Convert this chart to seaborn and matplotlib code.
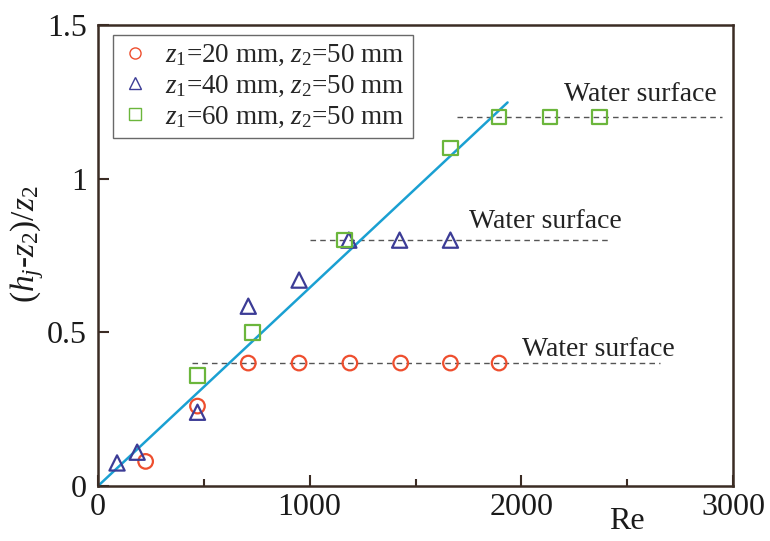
import numpy as np
import pandas as pd
import matplotlib
matplotlib.use("Agg")
import matplotlib.pyplot as plt
from matplotlib.lines import Line2D
import seaborn as sns

# ---- data ----
re_c = [225, 470, 710, 950, 1190, 1430, 1665, 1895]
y_c = [0.08, 0.26, 0.40, 0.40, 0.40, 0.40, 0.40, 0.40]
re_t = [90, 185, 470, 710, 950, 1185, 1425, 1665]
y_t = [0.075, 0.11, 0.24, 0.585, 0.67, 0.80, 0.80, 0.80]
re_s = [470, 730, 1165, 1665, 1895, 2135, 2370]
y_s = [0.36, 0.50, 0.80, 1.10, 1.20, 1.20, 1.20]
fit_x = [0, 1935]
fit_y = [0, 1.248]
surf_y = [0.40, 0.80, 1.20]
surf_x0 = [445, 1000, 1695]
surf_x1 = [2655, 2410, 2950]
labels = ["$z_1$=20 mm, $z_2$=50 mm", "$z_1$=40 mm, $z_2$=50 mm", "$z_1$=60 mm, $z_2$=50 mm"]
xticks = [0, 1000, 2000, 3000]
yticks = [0, 0.5, 1, 1.5]
ytick_labels = ["0", "0.5", "1", "1.5"]

colors = ["#EE4E2E", "#3C3C96", "#6BB63C"]
markers = ["o", "^", "s"]
line_color = "#1AA0D2"
spine_color = "#3B2C24"

sns.set_theme(style="ticks")
plt.rcParams["font.family"] = ["Liberation Serif", "DejaVu Serif"]
plt.rcParams["mathtext.fontset"] = "custom"
plt.rcParams["mathtext.rm"] = "Liberation Serif"
plt.rcParams["mathtext.it"] = "Liberation Serif:italic"

fig = plt.figure(figsize=(7.7, 5.41), dpi=100)
ax = fig.add_axes([98/770, 1 - 486/541, 635/770, 461/541])

# surface lines
for yv, x0, x1 in zip(surf_y, surf_x0, surf_x1):
    sns.lineplot(x=[x0, x1], y=[yv, yv], ax=ax, color="#555555", lw=1.0,
                 linestyle=(0, (4, 3)), zorder=1)

# fit line
sns.lineplot(x=fit_x, y=fit_y, ax=ax, color=line_color, lw=1.8, zorder=2)

sizes = [110, 120, 110]
for xs, ys, c, m, s in zip([re_c, re_t, re_s], [y_c, y_t, y_s], colors, markers, sizes):
    sns.scatterplot(x=xs, y=ys, ax=ax, marker=m, s=s, zorder=3)
    coll = ax.collections[-1]
    coll.set_facecolor("none")
    coll.set_edgecolor(c)
    coll.set_linewidth(1.6)

# Water surface labels
ws_fs = 20
ax.text(2200, 1.275, "Water surface", fontsize=ws_fs, color="#222222", va="center")
ax.text(1755, 0.86, "Water surface", fontsize=ws_fs, color="#222222", va="center")
ax.text(2005, 0.445, "Water surface", fontsize=ws_fs, color="#222222", va="center")

ax.set_xlim(0, 3000)
ax.set_ylim(0, 1.5)
ax.set_xticks(xticks)
ax.set_xticks([500, 1500, 2500], minor=True)
ax.set_yticks(yticks)
ax.set_yticklabels(ytick_labels)
ax.tick_params(axis="both", which="major", direction="in", length=8, width=1.5,
               labelsize=23, colors=spine_color, labelcolor="#1a1a1a", pad=8)
ax.tick_params(axis="x", which="minor", direction="in", length=5, width=1.5, colors=spine_color)
ax.tick_params(axis="x", which="major", pad=5)

for sp in ax.spines.values():
    sp.set_visible(True)
    sp.set_color(spine_color)
    sp.set_linewidth(1.8)

ax.set_xlabel("")
ax.set_ylabel("$(h_j$-$z_2)/z_2$", fontsize=24, color="#1a1a1a", labelpad=2)
ax.yaxis.set_label_coords(-0.082, 0.525)
ax.text(0.833, -0.076, "Re", transform=ax.transAxes, fontsize=23, color="#1a1a1a",
        ha="center", va="center")

handles = [Line2D([], [], marker=m, linestyle="none", markerfacecolor="none",
                  markeredgecolor=c, markersize=8, markeredgewidth=1.0)
           for m, c in zip(markers, colors)]
leg = ax.legend(handles, labels, loc="upper left", bbox_to_anchor=(0.024, 0.978),
                fontsize=19.5, frameon=True, fancybox=False, handlelength=1.0,
                handletextpad=0.6, borderpad=0.3, labelspacing=0.2, borderaxespad=0)
leg.get_frame().set_edgecolor("#444444")
leg.get_frame().set_linewidth(1.0)

fig.savefig("out.png", dpi=100)
